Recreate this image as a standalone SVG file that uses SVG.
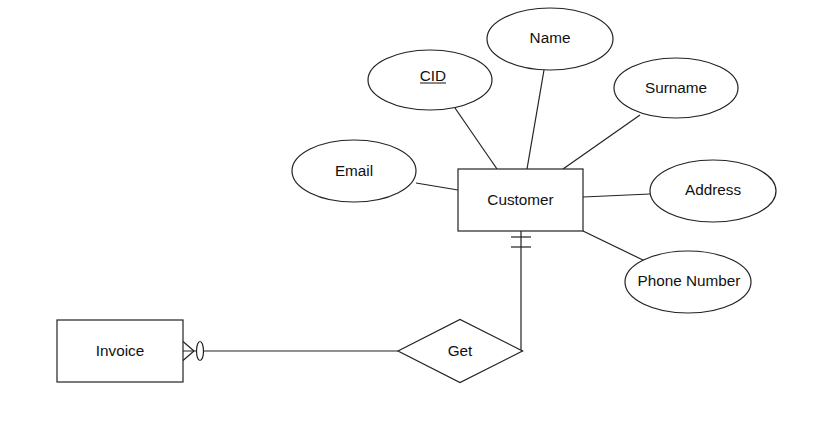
<svg xmlns="http://www.w3.org/2000/svg" width="821" height="431" viewBox="0 0 821 431">
<style>
.shape{fill:#fff;stroke:#222;stroke-width:1.2}
.ln{fill:none;stroke:#222;stroke-width:1.2}
text{font-family:"Liberation Sans",Arial,sans-serif;font-size:15.3px;fill:#111;text-anchor:middle;dominant-baseline:central}
</style>
<rect width="821" height="431" fill="#fff"/>
<g id="connectors">
<line class="ln" x1="455" y1="108" x2="497" y2="169"/>
<line class="ln" x1="544" y1="70" x2="527" y2="169"/>
<line class="ln" x1="640" y1="115" x2="563" y2="169"/>
<line class="ln" x1="416" y1="183" x2="458" y2="190"/>
<line class="ln" x1="583" y1="197" x2="650" y2="194"/>
<line class="ln" x1="583" y1="231" x2="645" y2="261"/>
<polyline class="ln" points="521,231 521,351 523,351"/>
<line class="ln" x1="511" y1="237" x2="531" y2="237"/>
<line class="ln" x1="511" y1="247" x2="531" y2="247"/>
<line class="ln" x1="183" y1="351" x2="398" y2="351"/>
<line class="ln" x1="183" y1="341.5" x2="194" y2="351"/>
<line class="ln" x1="183" y1="360.5" x2="194" y2="351"/>
<ellipse class="shape" cx="200" cy="351" rx="3.5" ry="9.5"/>
</g>
<g id="customer"><rect class="shape" x="458" y="169" width="125" height="62"/><text x="520.5" y="199">Customer</text></g>
<g id="invoice"><rect class="shape" x="57" y="320" width="126" height="62"/><text x="120" y="350">Invoice</text></g>
<g id="get"><polygon class="shape" points="398,351 460,319.5 522.5,351 460,382.5"/><text x="460" y="350">Get</text></g>
<g id="cid"><ellipse class="shape" cx="430" cy="80" rx="62" ry="30"/><text x="433" y="75">CID</text><line x1="420" y1="83" x2="446" y2="83" stroke="#111" stroke-width="1"/></g>
<g id="name"><ellipse class="shape" cx="550" cy="39" rx="63" ry="31"/><text x="550" y="37">Name</text></g>
<g id="surname"><ellipse class="shape" cx="676" cy="88" rx="62" ry="30"/><text x="676" y="87">Surname</text></g>
<g id="email"><ellipse class="shape" cx="354" cy="171" rx="62" ry="31"/><text x="354" y="170">Email</text></g>
<g id="address"><ellipse class="shape" cx="713" cy="191" rx="63" ry="31"/><text x="713" y="189">Address</text></g>
<g id="phone"><ellipse class="shape" cx="688" cy="282" rx="63" ry="31"/><text x="689" y="280">Phone Number</text></g>
</svg>
